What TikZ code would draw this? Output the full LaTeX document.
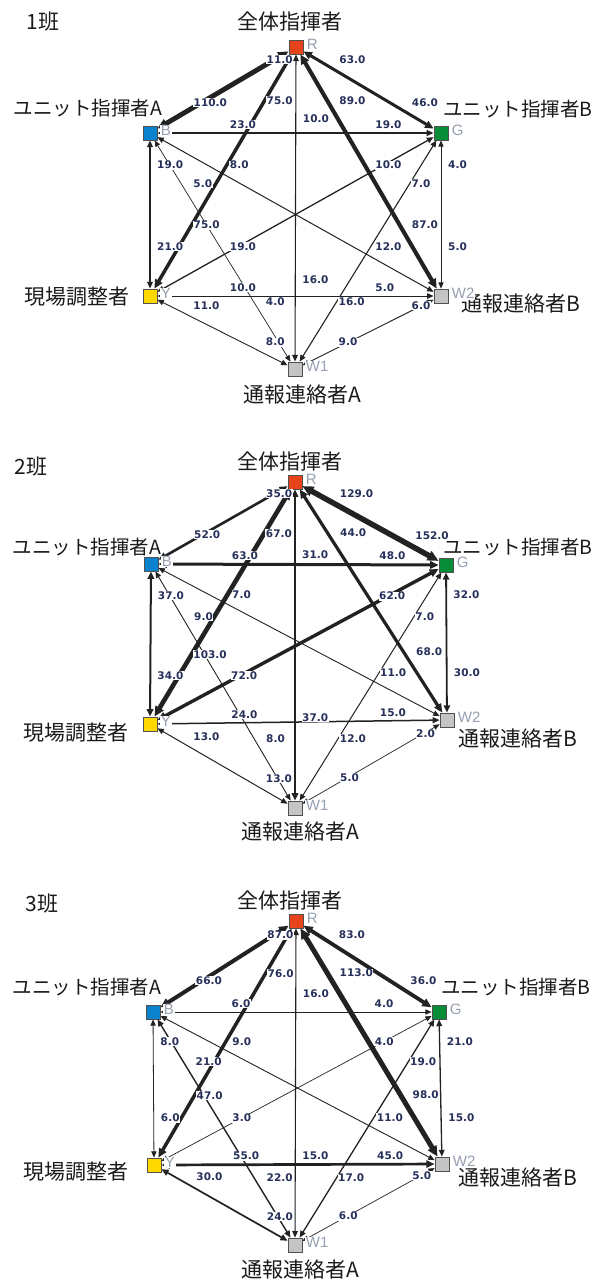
\documentclass[tikz,border=0pt]{standalone}
\usepackage{fontspec}
\newfontfamily\jpfont{Noto Sans CJK JP}
\newfontfamily\wfont{DejaVu Sans}
\newfontfamily\letfont{Liberation Sans}
\usetikzlibrary{arrows.meta}
\pgfdeclarelayer{bg}
\pgfsetlayers{bg,main}
\definecolor{cR}{HTML}{E8441C}
\definecolor{cB}{HTML}{0A82CD}
\definecolor{cG}{HTML}{078D38}
\definecolor{cY}{HTML}{FFD800}
\definecolor{cW}{HTML}{C4C4C4}
\definecolor{sqborder}{HTML}{505050}
\definecolor{linec}{HTML}{222222}
\definecolor{wcol}{HTML}{26305A}
\definecolor{letcol}{HTML}{96A0B2}
\definecolor{txtc}{HTML}{1A1A1A}
\tikzset{
  sq/.style={rectangle,draw=sqborder,line width=0.8pt,minimum size=14pt,inner sep=0pt},
  lett/.style={anchor=west,fill=white,inner sep=0.8pt,text=letcol,font=\letfont\fontsize{15pt}{17pt}\selectfont},
  big/.style={text=txtc,inner sep=0pt,font=\jpfont\fontsize{21pt}{24pt}\selectfont},
  bigu/.style={big,font=\jpfont\fontsize{19.5pt}{22pt}\selectfont},
  edgeline/.style={draw=linec,>={Triangle[length=5.5pt 1,width=4.5pt 1]},<->},
  wlab/.style={anchor=south west,xshift=6.5pt,yshift=4pt,fill=white,inner sep=0.5pt,text=wcol,font=\wfont\bfseries\fontsize{10.5pt}{12pt}\selectfont}
}
\newcommand\edg[5]{%
  \begin{pgfonlayer}{bg}
  \draw[edgeline,line width=#5pt] (#1) -- (#2);
  \end{pgfonlayer}
  \path (#1.center) -- (#2.center) node[wlab,pos=0.25]{#3} node[wlab,pos=0.75]{#4};
}
\newcommand\lettag[2]{\node[lett] (#1t) at ([xshift=2.5pt,yshift=2.5pt]#1.east) {#2};}
\begin{document}
\begin{tikzpicture}[x=1pt,y=-1pt]
\useasboundingbox (0,0) rectangle (600,1284);
% ---------------- panel 1
\node[big] (title1) at (43,22) {1班};
\node[sq,fill=cR] (R1) at (296,47) {};
\node[sq,fill=cB] (B1) at (150,133) {};
\node[sq,fill=cG] (G1) at (441,133) {};
\node[sq,fill=cY] (Y1) at (150,296) {};
\node[sq,fill=cW] (V1) at (441,296) {};
\node[sq,fill=cW] (U1) at (295,369) {};
\node[big] (nR1) at (290,22) {全体指揮者};
\node[bigu] (nB1) at (88,108) {ユニット指揮者A};
\node[bigu] (nG1) at (518,109) {ユニット指揮者B};
\node[big] (nY1) at (77,297) {現場調整者};
\node[big] (nV1) at (521,304) {通報連絡者B};
\node[big] (nU1) at (302,395) {通報連絡者A};
\edg{R1}{B1}{11.0}{110.0}{4.9}
\edg{R1}{G1}{63.0}{46.0}{3.0}
\edg{R1}{Y1}{75.0}{75.0}{3.5}
\edg{R1}{V1}{89.0}{87.0}{4.1}
\edg{R1}{U1}{10.0}{16.0}{1.1}
\edg{B1}{G1}{23.0}{19.0}{1.4}
\edg{B1}{Y1}{19.0}{21.0}{1.3}
\edg{B1}{V1}{8.0}{12.0}{1.0}
\edg{B1}{U1}{5.0}{4.0}{0.7}
\edg{G1}{Y1}{10.0}{19.0}{1.3}
\edg{G1}{V1}{4.0}{5.0}{0.7}
\edg{G1}{U1}{7.0}{16.0}{1.1}
\edg{Y1}{V1}{10.0}{5.0}{0.9}
\edg{Y1}{U1}{11.0}{8.0}{0.9}
\edg{V1}{U1}{6.0}{9.0}{0.9}
\lettag{R1}{R}\lettag{B1}{B}\lettag{G1}{G}\lettag{Y1}{Y}\lettag{V1}{W2}\lettag{U1}{W1}
% ---------------- panel 2
\node[big] (title2) at (31,467) {2班};
\node[sq,fill=cR] (R2) at (295,482) {};
\node[sq,fill=cB] (B2) at (151,564) {};
\node[sq,fill=cG] (G2) at (446,565) {};
\node[sq,fill=cY] (Y2) at (150,724) {};
\node[sq,fill=cW] (V2) at (447,720) {};
\node[sq,fill=cW] (U2) at (295,808) {};
\node[big] (nR2) at (290,462) {全体指揮者};
\node[bigu] (nB2) at (87,547) {ユニット指揮者A};
\node[bigu] (nG2) at (518,547) {ユニット指揮者B};
\node[big] (nY2) at (76,733) {現場調整者};
\node[big] (nV2) at (518,739) {通報連絡者B};
\node[big] (nU2) at (300,832) {通報連絡者A};
\edg{R2}{B2}{35.0}{52.0}{2.6}
\edg{R2}{G2}{129.0}{152.0}{5.5}
\edg{R2}{Y2}{67.0}{103.0}{4.6}
\edg{R2}{V2}{44.0}{68.0}{3.2}
\edg{R2}{U2}{31.0}{37.0}{2.0}
\edg{B2}{G2}{63.0}{48.0}{3.0}
\edg{B2}{Y2}{37.0}{34.0}{2.0}
\edg{B2}{V2}{7.0}{11.0}{0.9}
\edg{B2}{U2}{9.0}{8.0}{0.9}
\edg{G2}{Y2}{62.0}{72.0}{3.4}
\edg{G2}{V2}{32.0}{30.0}{1.8}
\edg{G2}{U2}{7.0}{12.0}{1.0}
\edg{Y2}{V2}{24.0}{15.0}{1.5}
\edg{Y2}{U2}{13.0}{13.0}{1.0}
\edg{V2}{U2}{2.0}{5.0}{0.7}
\lettag{R2}{R}\lettag{B2}{B}\lettag{G2}{G}\lettag{Y2}{Y}\lettag{V2}{W2}\lettag{U2}{W1}
% ---------------- panel 3
\node[big] (title3) at (42,903) {3班};
\node[sq,fill=cR] (R3) at (296,921) {};
\node[sq,fill=cB] (B3) at (153,1012) {};
\node[sq,fill=cG] (G3) at (439,1012) {};
\node[sq,fill=cY] (Y3) at (154,1165) {};
\node[sq,fill=cW] (V3) at (442,1164) {};
\node[sq,fill=cW] (U3) at (295,1245) {};
\node[big] (nR3) at (290,900) {全体指揮者};
\node[bigu] (nB3) at (87,987) {ユニット指揮者A};
\node[bigu] (nG3) at (516,987) {ユニット指揮者B};
\node[big] (nY3) at (76,1172) {現場調整者};
\node[big] (nV3) at (518,1178) {通報連絡者B};
\node[big] (nU3) at (300,1270) {通報連絡者A};
\edg{R3}{B3}{87.0}{66.0}{4.0}
\edg{R3}{G3}{83.0}{36.0}{3.8}
\edg{R3}{Y3}{76.0}{47.0}{3.5}
\edg{R3}{V3}{113.0}{98.0}{5.0}
\edg{R3}{U3}{16.0}{15.0}{1.1}
\edg{B3}{G3}{6.0}{4.0}{0.7}
\edg{B3}{Y3}{8.0}{6.0}{0.8}
\edg{B3}{V3}{9.0}{11.0}{0.9}
\edg{B3}{U3}{21.0}{22.0}{1.4}
\edg{G3}{Y3}{4.0}{3.0}{0.7}
\edg{G3}{V3}{21.0}{15.0}{1.3}
\edg{G3}{U3}{19.0}{17.0}{1.3}
\edg{Y3}{V3}{55.0}{45.0}{2.7}
\edg{Y3}{U3}{30.0}{24.0}{1.7}
\edg{V3}{U3}{5.0}{6.0}{0.7}
\lettag{R3}{R}\lettag{B3}{B}\lettag{G3}{G}\lettag{Y3}{Y}\lettag{V3}{W2}\lettag{U3}{W1}
\end{tikzpicture}
\end{document}
